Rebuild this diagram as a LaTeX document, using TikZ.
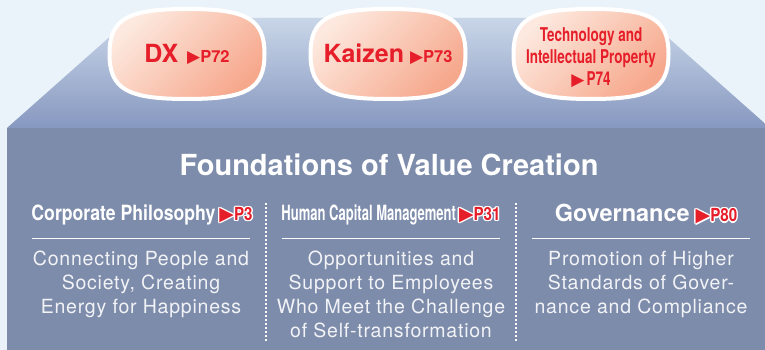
\documentclass[tikz,border=0pt]{standalone}
\usepackage{fontspec}
\usepackage{xcolor}
\usepackage{tikz}
\usetikzlibrary{positioning}
\setmainfont{TeX Gyre Heros}
\newfontfamily\narrowfont{TeX Gyre Heros}[FakeStretch=0.84]
\newfontfamily\narrowerfont{TeX Gyre Heros}[FakeStretch=0.62]
\newfontfamily\techfont{TeX Gyre Heros}[FakeStretch=0.71]
\newfontfamily\bodyfont{TeX Gyre Heros}[LetterSpace=4]
\newfontfamily\symbfont{DejaVu Sans}

\definecolor{bgblue}{HTML}{EAF2FA}
\definecolor{slate}{HTML}{7D8CAB}
\definecolor{planetop}{HTML}{C9D6E8}
\definecolor{planebot}{HTML}{8798C0}
\definecolor{peachlight}{HTML}{FDE9DF}
\definecolor{peachdark}{HTML}{F6A88C}
\definecolor{tagred}{HTML}{E61E2A}
\definecolor{paletext}{HTML}{F2F3F6}

% white halo round red page tags
\newcommand{\haloat}[3]{\makebox[0pt][l]{\hspace*{#1}\raisebox{#2}{\textcolor{white}{#3}}}}
\newcommand{\halo}[1]{%
  \haloat{1.4pt}{0pt}{#1}\haloat{-1.4pt}{0pt}{#1}%
  \haloat{0pt}{1.4pt}{#1}\haloat{0pt}{-1.4pt}{#1}%
  \haloat{1pt}{1pt}{#1}\haloat{-1pt}{1pt}{#1}%
  \haloat{1pt}{-1pt}{#1}\haloat{-1pt}{-1pt}{#1}%
  \textcolor{tagred}{#1}}
\newcommand{\badge}[1]{\halo{\symbfont\fontsize{19}{19}\selectfont ▶}\halo{\narrowfont\bfseries\fontsize{18}{18}\selectfont #1}}
\newcommand{\pagetri}{{\symbfont\mdseries\fontsize{17}{17}\selectfont ▶}}

\tikzset{
  bubbleshape/.pic={
    \shade[draw=white, line width=4pt, top color=peachlight,
      bottom color=peachdark, shading angle=45]
      (0,-45) .. controls (60,-45) and (77.5,-35) .. (77.5,0)
      .. controls (77.5,35) and (60,45) .. (0,45)
      .. controls (-60,45) and (-77.5,35) .. (-77.5,0)
      .. controls (-77.5,-35) and (-60,-45) .. (0,-45) -- cycle;
  },
  bubble/.style={inner sep=0pt, text=tagred, font=\bfseries, align=center},
  colhead/.style={text=white, font=\bfseries\fontsize{21}{22}\selectfont, inner sep=0pt},
  coltext/.style={text=paletext, font=\bodyfont\fontsize{19.5}{24}\selectfont,
    align=center, anchor=north, inner sep=0pt},
  headrule/.style={white, line width=1pt},
  colsep/.style={white, line width=1.2pt, dash pattern=on 1.5pt off 2.5pt}
}

\begin{document}
\begin{tikzpicture}[x=1pt,y=-1pt]
        \useasboundingbox (0,0) rectangle (765,350);
        \fill[bgblue] (0,0) rectangle (765,350);

        % Base block and plane
        \fill[slate] (7,128) rectangle (770,350);
        \shade[top color=planetop, bottom color=planebot]
          (7,128) -- (131,18) -- (646,18) -- (770,128) -- cycle;

        % Bubbles on the plane
        \pic at (187,54) {bubbleshape};
        \pic at (388,54) {bubbleshape};
        \pic at (591,54) {bubbleshape};

        \node (dx) [bubble] at (187,54)
          {{\fontsize{25}{25}\selectfont DX}\hspace{9pt}\pagetri{\fontsize{16.5}{16.5}\selectfont P72}};
        \node (kaizen) [bubble] at (388,54)
          {{\fontsize{25}{25}\selectfont Kaizen}\hspace{6pt}\pagetri{\fontsize{16.5}{16.5}\selectfont P73}};
        \node (tech) [bubble, font=\techfont\bfseries\fontsize{19}{22}\selectfont] at (591,58)
          {Technology and\\Intellectual Property\\\pagetri\hspace{2pt}P74};

        % Title
        \node (title) [text=white, font=\bfseries\fontsize{29}{30}\selectfont] at (389,165)
          {Foundations of Value Creation};

        % Column heads
        \node (phil) [colhead] at (142,215) {{\narrowfont Corporate Philosophy}\hspace{4pt}\badge{P3}};
        \node (hcm) [colhead] at (391,215) {{\narrowerfont Human Capital Management}\hspace{3pt}\badge{P31}};
        \node (gov) [colhead, font=\bfseries\fontsize{23.5}{24}\selectfont] at (646,215)
          {Governance\hspace{6pt}\badge{P80}};

        \draw[headrule] (32,238) -- (250,238);
        \draw[headrule] (282,238) -- (500,238);
        \draw[headrule] (532,238) -- (750,238);

        % Column texts
        \node (philtxt) [coltext] at (141,251)
          {Connecting People and\\Society, Creating\\Energy for Happiness};
        \node (hcmtxt) [coltext] at (391,251)
          {Opportunities and\\Support to Employees\\Who Meet the Challenge\\of Self-transformation};
        \node (govtxt) [coltext] at (641,251)
          {Promotion of Higher\\Standards of Gover-\\nance and Compliance};

        % Dotted separators
        \draw[colsep] (266,203) -- (266,342);
        \draw[colsep] (516,203) -- (516,342);
      \end{tikzpicture}
\end{document}
